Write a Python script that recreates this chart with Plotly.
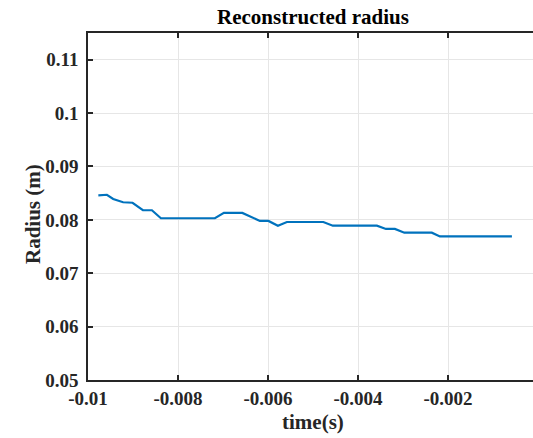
import plotly.graph_objects as go

# Reconstructed radius vs. time (vertices of the piecewise trace)
time_s = [-0.00977, -0.00958, -0.00944, -0.00922, -0.00901, -0.00878, -0.00858,
          -0.00838, -0.00718, -0.00698, -0.00657, -0.00618, -0.00599, -0.00578,
          -0.00558, -0.00477, -0.00456, -0.00358, -0.00338, -0.00318, -0.00297,
          -0.00236, -0.00218, -0.00058]
radius_m = [0.0846, 0.0847, 0.0839, 0.0833, 0.0832, 0.0818, 0.0818,
            0.0803, 0.0803, 0.0813, 0.0813, 0.0798, 0.0798, 0.0789,
            0.0796, 0.0796, 0.0789, 0.0789, 0.0783, 0.0783, 0.0776,
            0.0776, 0.0769, 0.0769]

x_ticks = [-0.01, -0.008, -0.006, -0.004, -0.002]
x_tick_text = ["-0.01", "-0.008", "-0.006", "-0.004", "-0.002"]
y_ticks = [0.05, 0.06, 0.07, 0.08, 0.09, 0.1, 0.11]
y_tick_text = ["0.05", "0.06", "0.07", "0.08", "0.09", "0.1", "0.11"]

FONT = "Liberation Serif"
AXIS_COLOR = "#262626"

fig = go.Figure()
fig.add_trace(go.Scatter(
    x=time_s, y=radius_m, mode="lines",
    line=dict(color="#0072BD", width=2.2),
    showlegend=False,
))

fig.update_layout(
    width=533, height=438,
    margin=dict(l=88, r=0, t=33, b=58),
    paper_bgcolor="white", plot_bgcolor="white",
    font=dict(family=FONT, color=AXIS_COLOR),
    xaxis=dict(
        range=[-0.01, -0.01 + 445 / 45000],
        tickvals=x_ticks, ticktext=x_tick_text,
        tickfont=dict(size=19, family=FONT, color=AXIS_COLOR, weight="bold"),
        showgrid=True, gridcolor="#e6e6e6", gridwidth=1,
        showline=True, linecolor=AXIS_COLOR, linewidth=1.5,
        mirror="ticks", ticks="inside", ticklen=5, tickcolor=AXIS_COLOR,
        tickwidth=1.5, zeroline=False,
    ),
    yaxis=dict(
        range=[0.05, 0.115],
        tickvals=y_ticks, ticktext=y_tick_text,
        tickfont=dict(size=19, family=FONT, color=AXIS_COLOR, weight="bold"),
        showgrid=True, gridcolor="#e6e6e6", gridwidth=1,
        showline=True, linecolor=AXIS_COLOR, linewidth=1.5,
        mirror=False, ticks="inside", ticklen=5, tickcolor=AXIS_COLOR,
        tickwidth=1.5, zeroline=False, ticklabelstandoff=4,
    ),
    annotations=[
        dict(text="<b>Reconstructed radius</b>", xref="paper", yref="paper",
             x=(313 - 88) / 445, y=1, yshift=16, xanchor="center", yanchor="middle",
             showarrow=False, font=dict(size=21, family=FONT, color="black")),
        dict(text="<b>time(s)</b>", xref="paper", yref="paper",
             x=(313 - 88) / 445, y=0, yshift=-42, xanchor="center", yanchor="middle",
             showarrow=False, font=dict(size=21, family=FONT, color=AXIS_COLOR)),
        dict(text="<b>Radius (m)</b>", xref="paper", yref="paper",
             x=0, xshift=-55, y=(380 - 214) / 347, xanchor="center", yanchor="middle",
             textangle=-90, showarrow=False,
             font=dict(size=21, family=FONT, color=AXIS_COLOR)),
    ],
)

fig.write_html("out.html")
